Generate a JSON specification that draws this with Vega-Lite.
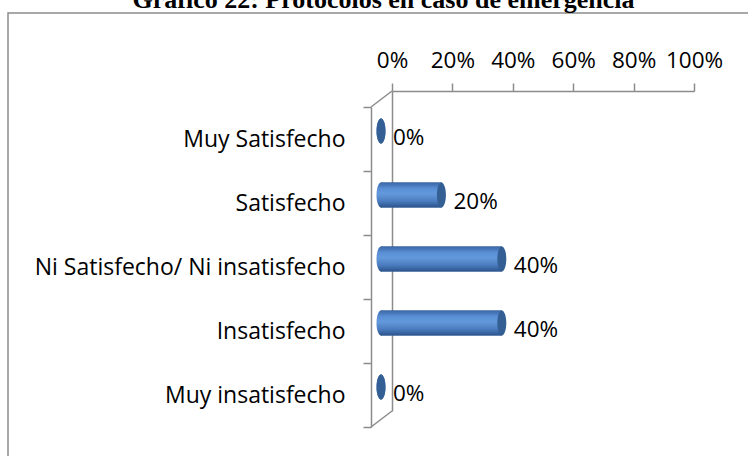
{
  "$schema": "https://vega.github.io/schema/vega-lite/v6.json",
  "autosize": "none",
  "padding": {"left": 8, "top": 13, "right": 0, "bottom": 0},
  "width": 745,
  "height": 450,
  "background": "white",
  "config": {
    "view": {"stroke": "#8c8c8c", "strokeWidth": 1.5},
    "font": "Open Sans"
  },
  "data": {
    "values": [
      {"cat": "Muy Satisfecho", "value": 0},
      {"cat": "Satisfecho", "value": 0.2},
      {"cat": "Ni Satisfecho/ Ni insatisfecho", "value": 0.4},
      {"cat": "Insatisfecho", "value": 0.4},
      {"cat": "Muy insatisfecho", "value": 0}
    ]
  },
  "encoding": {
    "x": {
      "field": "value", "type": "quantitative",
      "scale": {"domain": [0, 1], "range": [373, 675], "zero": true, "nice": false},
      "axis": null
    },
    "y": {
      "field": "cat", "type": "nominal",
      "sort": ["Muy Satisfecho", "Satisfecho", "Ni Satisfecho/ Ni insatisfecho", "Insatisfecho", "Muy insatisfecho"],
      "scale": {"domain": ["Muy Satisfecho", "Satisfecho", "Ni Satisfecho/ Ni insatisfecho", "Insatisfecho", "Muy insatisfecho"], "range": [86, 406], "paddingInner": 0, "paddingOuter": 0},
      "axis": null
    }
  },
  "resolve": {"axis": {"x": "independent", "y": "independent"}},
  "layer": [
    {
      "mark": {
        "type": "bar",
        "height": 25,
        "stroke": "#3a64a0",
        "strokeWidth": 0.5,
        "color": {
          "gradient": "linear", "x1": 0, "y1": 0, "x2": 0, "y2": 1,
          "stops": [
            {"offset": 0, "color": "#3a66a6"},
            {"offset": 0.25, "color": "#5a8fd5"},
            {"offset": 0.45, "color": "#6399dc"},
            {"offset": 0.75, "color": "#4a7cbf"},
            {"offset": 1, "color": "#2c5289"}
          ]
        }
      },
      "encoding": {
        "x": {
          "field": "value", "type": "quantitative",
          "scale": {"domain": [0, 1], "range": [373, 675], "zero": true, "nice": false},
          "axis": {
            "orient": "top", "offset": -78, "position": 11,
            "values": [0, 0.2, 0.4, 0.6, 0.8, 1], "format": ".0%",
            "grid": false,
            "tickSize": 8, "tickColor": "#8c8c8c", "tickWidth": 1.5,
            "domainColor": "#8c8c8c", "domainWidth": 1.5,
            "labelFont": "Open Sans", "labelFontSize": 22.5, "labelColor": "black",
            "labelPadding": 16, "labelBaseline": "alphabetic",
            "labelFlush": false, "labelOverlap": false,
            "title": "Gráfico 22: Protocolos en caso de emergencia",
            "titleFont": "Liberation Serif", "titleFontSize": 26, "titleFontWeight": "bold",
            "titleColor": "black", "titleAlign": "center", "titleBaseline": "alphabetic",
            "titleX": 364, "titleY": -84, "titleLimit": 0
          }
        },
        "y": {
          "field": "cat", "type": "nominal",
          "sort": ["Muy Satisfecho", "Satisfecho", "Ni Satisfecho/ Ni insatisfecho", "Insatisfecho", "Muy insatisfecho"],
          "scale": {"domain": ["Muy Satisfecho", "Satisfecho", "Ni Satisfecho/ Ni insatisfecho", "Insatisfecho", "Muy insatisfecho"], "range": [86, 406], "paddingInner": 0, "paddingOuter": 0},
          "axis": {
            "orient": "left", "offset": -363, "position": 8,
            "tickBand": "extent", "title": null, "grid": false,
            "tickSize": 8, "tickColor": "#8c8c8c", "tickWidth": 1.5,
            "domainColor": "#8c8c8c", "domainWidth": 1.5,
            "labelFont": "Open Sans", "labelFontSize": 23, "labelColor": "black",
            "labelPadding": 18, "labelBaseline": "middle", "labelLimit": 0
          }
        }
      }
    },
    {
      "mark": {
        "type": "point",
        "shape": "M0,-12.5A4.5,12.5 0 1,1 0,12.5A4.5,12.5 0 1,1 0,-12.5Z",
        "size": 4,
        "filled": true,
        "opacity": 1,
        "strokeWidth": 0,
        "color": {
          "gradient": "linear", "x1": 0, "y1": 0, "x2": 0, "y2": 1,
          "stops": [
            {"offset": 0, "color": "#3a66a6"},
            {"offset": 0.25, "color": "#5a8fd5"},
            {"offset": 0.45, "color": "#6399dc"},
            {"offset": 0.75, "color": "#4a7cbf"},
            {"offset": 1, "color": "#2c5289"}
          ]
        }
      },
      "encoding": {
        "x": {"datum": 0, "type": "quantitative"},
        "y": {
          "field": "cat", "type": "nominal",
          "sort": ["Muy Satisfecho", "Satisfecho", "Ni Satisfecho/ Ni insatisfecho", "Insatisfecho", "Muy insatisfecho"],
          "axis": {
            "orient": "right", "offset": -361, "position": -8,
            "labels": false, "ticks": false, "title": null, "grid": false,
            "domainColor": "#8c8c8c", "domainWidth": 1.5
          }
        }
      }
    },
    {
      "mark": {
        "type": "point",
        "shape": "M0,-12.5A4.5,12.5 0 1,1 0,12.5A4.5,12.5 0 1,1 0,-12.5Z",
        "size": 4,
        "filled": true,
        "opacity": 1,
        "strokeWidth": 0,
        "color": "#345f94"
      }
    },
    {
      "mark": {
        "type": "text",
        "align": "left",
        "baseline": "middle",
        "dx": 12,
        "dy": 7,
        "font": "Open Sans",
        "fontSize": 22.5,
        "color": "black"
      },
      "encoding": {
        "text": {"field": "value", "type": "quantitative", "format": ".0%"}
      }
    },
    {
      "transform": [{"filter": "datum.cat === 'Muy Satisfecho'"}],
      "mark": {
        "type": "point",
        "shape": "M0,0L21,-16",
        "size": 4,
        "filled": false,
        "opacity": 1,
        "stroke": "#8c8c8c",
        "strokeWidth": 1.5,
        "xOffset": -10,
        "yOffset": -24
      },
      "encoding": {
        "x": {"datum": 0, "type": "quantitative"},
        "y": {"datum": "Muy Satisfecho", "type": "nominal"}
      }
    },
    {
      "transform": [{"filter": "datum.cat === 'Muy insatisfecho'"}],
      "mark": {
        "type": "point",
        "shape": "M0,0L21,-16",
        "size": 4,
        "filled": false,
        "opacity": 1,
        "stroke": "#8c8c8c",
        "strokeWidth": 1.5,
        "xOffset": -10,
        "yOffset": 40
      },
      "encoding": {
        "x": {"datum": 0, "type": "quantitative"},
        "y": {"datum": "Muy insatisfecho", "type": "nominal"}
      }
    }
  ]
}
